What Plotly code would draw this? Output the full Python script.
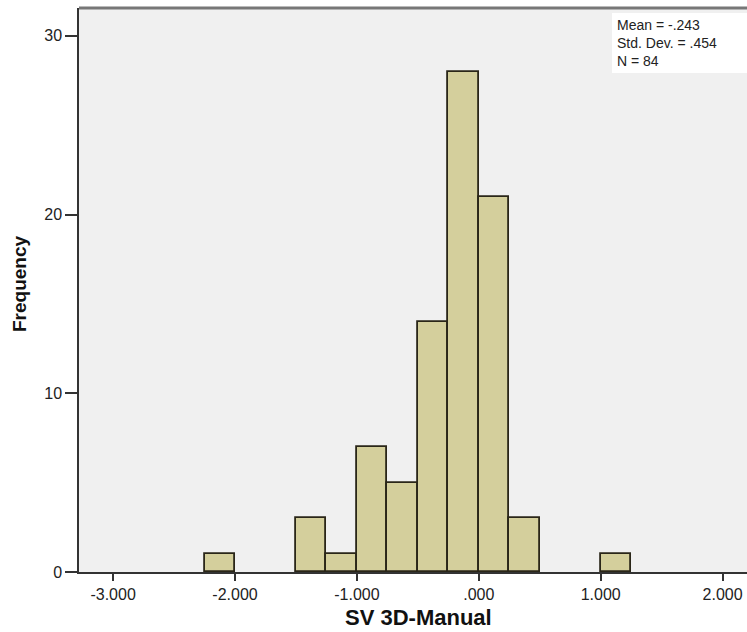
import plotly.graph_objects as go

bin_left = [-2.25, -1.5, -1.25, -1.0, -0.75, -0.5, -0.25, 0.0, 0.25, 1.0]
counts = [1, 3, 1, 7, 5, 14, 28, 21, 3, 1]
bin_width = 0.25
x_tick_vals = [-3, -2, -1, 0, 1, 2]
x_tick_text = ["-3.000", "-2.000", "-1.000", ".000", "1.000", "2.000"]
y_tick_vals = [0, 10, 20, 30]
stats_lines = ["Mean = -.243", "Std. Dev. = .454", "N = 84"]
x_title = "SV 3D-Manual"
y_title = "Frequency"

W, H = 747, 632
L, T, B = 79, 8, 60
PW, PH = W - L, H - T - B

def px(x):
    return (x - L) / PW

def py(y):
    return (H - B - y) / PH

fig = go.Figure()
fig.add_trace(go.Bar(
    x=bin_left, y=counts, width=bin_width, offset=0,
    marker=dict(color="#D4CF9C", line=dict(color="#2A2618", width=1.8)),
    hoverinfo="skip",
))

font = "Liberation Sans, Arial, sans-serif"
fig.update_layout(
    width=W, height=H,
    margin=dict(l=L, r=0, t=T, b=B, autoexpand=False),
    paper_bgcolor="white", plot_bgcolor="#F0F0F0",
    showlegend=False, bargap=0,
    font=dict(family=font, size=16, color="#222"),
    xaxis=dict(range=[-3.28, 2.2], tickvals=x_tick_vals, ticktext=x_tick_text,
               showgrid=False, zeroline=False, showline=True, linecolor="#333", linewidth=1.5,
               ticks="outside", ticklen=7, tickwidth=2, tickcolor="#333"),
    yaxis=dict(range=[0, 31.56], tickvals=y_tick_vals,
               showgrid=False, zeroline=False, showline=True, linecolor="#333", linewidth=1.5,
               ticks="outside", ticklen=12, tickwidth=1.5, tickcolor="#333"),
)
fig.add_shape(type="line", xref="paper", yref="paper", x0=0, x1=1, y0=1, y1=1,
              line=dict(color="#777", width=3))
fig.add_shape(type="rect", xref="paper", yref="paper", x0=px(612), x1=1.0,
              y0=py(73), y1=py(13), fillcolor="white", line=dict(width=0), layer="above")
fig.add_annotation(xref="paper", yref="paper", x=px(615), y=py(15),
                   xanchor="left", yanchor="top", align="left", showarrow=False,
                   text="<br>".join(stats_lines), font=dict(family=font, size=14, color="#222"))
fig.add_annotation(xref="paper", yref="paper", x=px(418), y=py(617),
                   xanchor="center", yanchor="middle", showarrow=False,
                   text="<b>" + x_title + "</b>", font=dict(family=font, size=22, color="#111"))
fig.add_annotation(xref="paper", yref="paper", x=px(19), y=py(284),
                   xanchor="center", yanchor="middle", showarrow=False, textangle=-90,
                   text="<b>" + y_title + "</b>", font=dict(family=font, size=19, color="#111"))
fig.write_html("out.html", config={"displayModeBar": False},
               post_script="document.body.style.margin='0';")
